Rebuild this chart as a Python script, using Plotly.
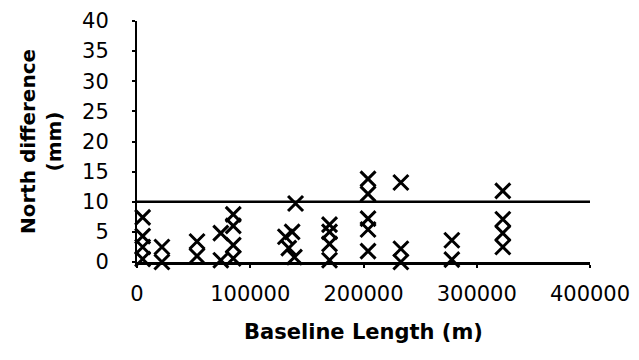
import plotly.graph_objects as go

# Baseline length (m) and north difference (mm)
baseline_m = [
    5000, 5000, 5000, 5000,
    22000, 22000,
    53000, 53000,
    74000, 74000,
    85000, 85000, 85000, 85000,
    131000, 137000, 134000, 139000, 140000,
    170000, 170000, 170000, 170000,
    204000, 204000, 204000, 204000, 204000,
    233000, 233000, 233000,
    278000, 278000,
    323000, 323000, 323000, 323000,
]
north_diff_mm = [
    7.4, 4.3, 2.5, 0.5,
    2.5, 0.0,
    3.4, 1.0,
    4.8, 0.3,
    7.9, 6.0, 2.8, 0.6,
    4.2, 5.0, 2.3, 0.8, 9.7,
    6.2, 5.0, 3.0, 0.3,
    13.8, 11.3, 7.2, 5.4, 1.8,
    13.2, 2.2, 0.0,
    3.6, 0.4,
    11.8, 7.1, 4.8, 2.5,
]

limit_x = [0, 400000]
limit_y = [10, 10]

x_ticks = [0, 100000, 200000, 300000, 400000]
y_ticks = [0, 5, 10, 15, 20, 25, 30, 35, 40]

FONT = "DejaVu Sans"

fig = go.Figure()
fig.add_trace(go.Scatter(
    x=limit_x, y=limit_y, mode="lines",
    line=dict(color="black", width=2.5),
    hoverinfo="skip", showlegend=False,
))
fig.add_trace(go.Scatter(
    x=baseline_m, y=north_diff_mm, mode="markers",
    marker=dict(symbol="x-thin-open", size=15, color="black",
                line=dict(color="black", width=3)),
    cliponaxis=False, showlegend=False,
))

fig.update_layout(
    width=639, height=360,
    margin=dict(l=129, r=57, t=13, b=106),
    paper_bgcolor="white", plot_bgcolor="white",
    font=dict(family=FONT, color="black"),
)
fig.update_xaxes(
    range=[0, 400000], tickvals=x_ticks,
    ticktext=[str(v) for v in x_ticks],
    automargin=False, ticklabeloverflow="allow",
    showgrid=False, zeroline=False,
    showline=True, linecolor="black", linewidth=2.5,
    ticks="outside", ticklen=3, tickwidth=2, tickcolor="black",
    ticklabelstandoff=8,
    tickfont=dict(family=FONT, size=21, color="black"),
    title=dict(text="<b>Baseline Length (m)</b>",
               font=dict(family=FONT, size=21, color="black"),
               standoff=20),
)
fig.update_yaxes(
    range=[0, 40], tickvals=y_ticks,
    automargin=False, ticklabeloverflow="allow",
    showgrid=False, zeroline=False,
    showline=True, linecolor="black", linewidth=2,
    ticks="outside", ticklen=3, tickwidth=2, tickcolor="black",
    ticklabelstandoff=19,
    tickfont=dict(family=FONT, size=21, color="black"),
    title=dict(text="<b>North difference<br>(mm)</b>",
               font=dict(family=FONT, size=20, color="black"),
               standoff=15),
)

fig.write_html("out.html")
